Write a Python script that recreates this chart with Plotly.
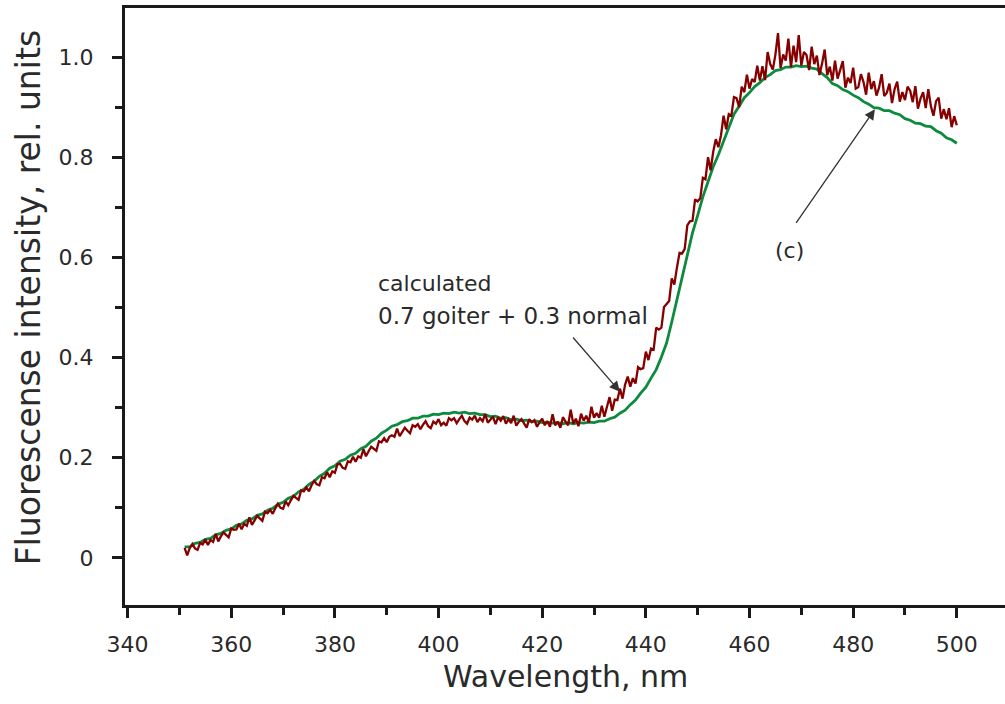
import plotly.graph_objects as go

# ---- data ----
green_start = 351
green_step = 1.0
green_vals = [
    .022, .022, .029, .031, .037, .039, .046, .049, .055, .058,
    .065, .068, .075, .078, .085, .088, .095, .099, .107, .111,
    .119, .123, .132, .137, .147, .153, .163, .169, .179, .184,
    .193, .197, .205, .209, .218, .223, .233, .239, .249, .255,
    .263, .266, .272, .274, .279, .279, .283, .283, .287, .286,
    .289, .288, .291, .289, .291, .288, .289, .286, .286, .282,
    .283, .279, .280, .276, .277, .274, .275, .272, .273, .270,
    .271, .269, .270, .268, .270, .268, .270, .269, .271, .270,
    .273, .273, .278, .281, .289, .295, .306, .315, .329, .341,
    .359, .376, .401, .429, .471, .514, .561, .604, .649, .684,
    .721, .751, .781, .805, .831, .859, .886, .902, .919, .929,
    .941, .949, .959, .965, .973, .975, .980, .980, .983, .981,
    .982, .978, .976, .967, .959, .947, .943, .935, .931, .924,
    .919, .911, .906, .899, .898, .893, .893, .888, .885, .877,
    .874, .868, .867, .862, .861, .853, .848, .839, .835, .828,
]

red_start = 351
red_step = 0.5
red_vals = [
    .020, .005, .020, .028, .019, .016, .030, .027, .037, .026, .036, .032, .048, .033, .043, .051, .046, .041, .059, .056,
    .057, .068, .057, .068, .064, .081, .066, .076, .084, .079, .074, .092, .089, .096, .088, .099, .108, .100, .098, .113,
    .105, .115, .124, .120, .116, .135, .133, .141, .133, .145, .154, .147, .145, .161, .159, .171, .161, .173, .170, .187,
    .188, .180, .178, .193, .191, .202, .192, .203, .200, .217, .203, .213, .222, .218, .214, .233, .231, .239, .231, .242,
    .245, .242, .258, .243, .252, .260, .254, .249, .265, .262, .267, .257, .266, .273, .263, .259, .272, .268, .277, .265,
    .270, .264, .279, .275, .279, .269, .277, .284, .273, .268, .280, .276, .284, .271, .279, .273, .287, .270, .276, .282,
    .267, .281, .274, .283, .268, .277, .269, .284, .264, .272, .277, .268, .260, .277, .271, .275, .262, .271, .278, .265,
    .273, .262, .287, .265, .272, .260, .281, .272, .265, .296, .268, .278, .263, .288, .274, .284, .270, .302, .280, .289,
    .280, .304, .282, .302, .321, .294, .316, .315, .338, .318, .346, .362, .342, .359, .348, .381, .377, .379, .412, .395,
    .418, .416, .460, .456, .460, .501, .508, .513, .558, .546, .580, .609, .608, .617, .664, .672, .673, .716, .712, .718,
    .759, .756, .800, .774, .811, .836, .820, .844, .883, .856, .886, .883, .920, .918, .900, .941, .930, .965, .937, .956,
    .950, .983, .953, .982, .954, 1.010, .986, .975, 1.005, 1.048, .978, 1.005, .993, 1.037, .980, 1.023, .990, 1.044, .983, 1.010,
    1.004, .974, 1.021, .986, 1.003, .964, .987, 1.015, .964, .981, .953, .993, .957, .975, .992, .939, .959, .948, .979, .937,
    .940, .966, .950, .925, .969, .936, .952, .923, .939, .966, .922, .929, .947, .908, .936, .951, .911, .930, .914, .941,
    .933, .910, .942, .897, .917, .930, .898, .936, .902, .883, .912, .919, .877, .896, .876, .898, .860, .882, .864,
]

x_tick_vals = [340, 360, 380, 400, 420, 440, 460, 480, 500]
y_tick_vals = [0, 0.2, 0.4, 0.6, 0.8, 1.0]
y_tick_text = ["0", "0.2", "0.4", "0.6", "0.8", "1.0"]

green_x = [green_start + green_step * i for i in range(len(green_vals))]
red_x = [red_start + red_step * i for i in range(len(red_vals))]

GREEN = "#0c8a3e"
RED = "#860000"
TXT = "#2a2a2a"
FONT = "DejaVu Sans"

fig = go.Figure()
fig.add_trace(go.Scatter(x=green_x, y=green_vals, mode="lines",
                         line=dict(color=GREEN, width=2.8), showlegend=False))
fig.add_trace(go.Scatter(x=red_x, y=red_vals, mode="lines",
                         line=dict(color=RED, width=2.3), showlegend=False))

axis_common = dict(showgrid=False, zeroline=False, showline=True, linecolor="#1a1a1a",
                   linewidth=3, ticks="outside", tickwidth=3, ticklen=10,
                   tickcolor="#1a1a1a", tickfont=dict(family=FONT, size=22, color=TXT))

fig.update_layout(
    width=1005, height=704,
    margin=dict(l=125, r=0, t=8, b=99),
    paper_bgcolor="white", plot_bgcolor="white",
    xaxis=dict(range=[339.5, 509.3], tickvals=x_tick_vals, mirror=True,
               minor=dict(tickvals=[350, 370, 390, 410, 430, 450, 470, 490], ticklen=7,
                          tickwidth=3, ticks="outside", tickcolor="#1a1a1a"),
               ticklabelstandoff=8, **axis_common),
    yaxis=dict(range=[-0.094, 1.098], tickvals=y_tick_vals, ticktext=y_tick_text,
               minor=dict(tickvals=[0.1, 0.3, 0.5, 0.7, 0.9], ticklen=7, tickwidth=3,
                          ticks="outside", tickcolor="#1a1a1a"),
               ticklabelstandoff=14, **axis_common),
)

# axis titles
fig.add_annotation(text="Wavelength, nm", xref="paper", yref="paper", x=0.5, y=-0.119,
                   xanchor="center", yanchor="middle", showarrow=False,
                   font=dict(family=FONT, size=30, color=TXT))
fig.add_annotation(text="Fluorescense intensity, rel. units", xref="paper", yref="paper",
                   x=-0.110, y=0.514, xanchor="center", yanchor="middle", textangle=-90,
                   showarrow=False, font=dict(family=FONT, size=33, color=TXT))

# text labels
fig.add_annotation(text="calculated", x=388.0, y=0.548, xref="x", yref="y",
                   xanchor="left", yanchor="middle", showarrow=False,
                   font=dict(family=FONT, size=22, color=TXT))
fig.add_annotation(text="0.7 goiter + 0.3 normal", x=388.0, y=0.483, xref="x", yref="y",
                   xanchor="left", yanchor="middle", showarrow=False,
                   font=dict(family=FONT, size=23, color=TXT))
fig.add_annotation(text="(c)", x=467.8, y=0.614, xref="x", yref="y",
                   xanchor="center", yanchor="middle", showarrow=False,
                   font=dict(family=FONT, size=22, color=TXT))

# arrows
fig.add_annotation(x=435.0, y=0.332, ax=425.7, ay=0.443, xref="x", yref="y",
                   axref="x", ayref="y", text="", showarrow=True, arrowhead=2,
                   arrowsize=1.6, arrowwidth=1.3, arrowcolor="#333333")
fig.add_annotation(x=484.2, y=0.896, ax=468.8, ay=0.666, xref="x", yref="y",
                   axref="x", ayref="y", text="", showarrow=True, arrowhead=2,
                   arrowsize=1.6, arrowwidth=1.3, arrowcolor="#333333")

fig.write_html("out.html")
